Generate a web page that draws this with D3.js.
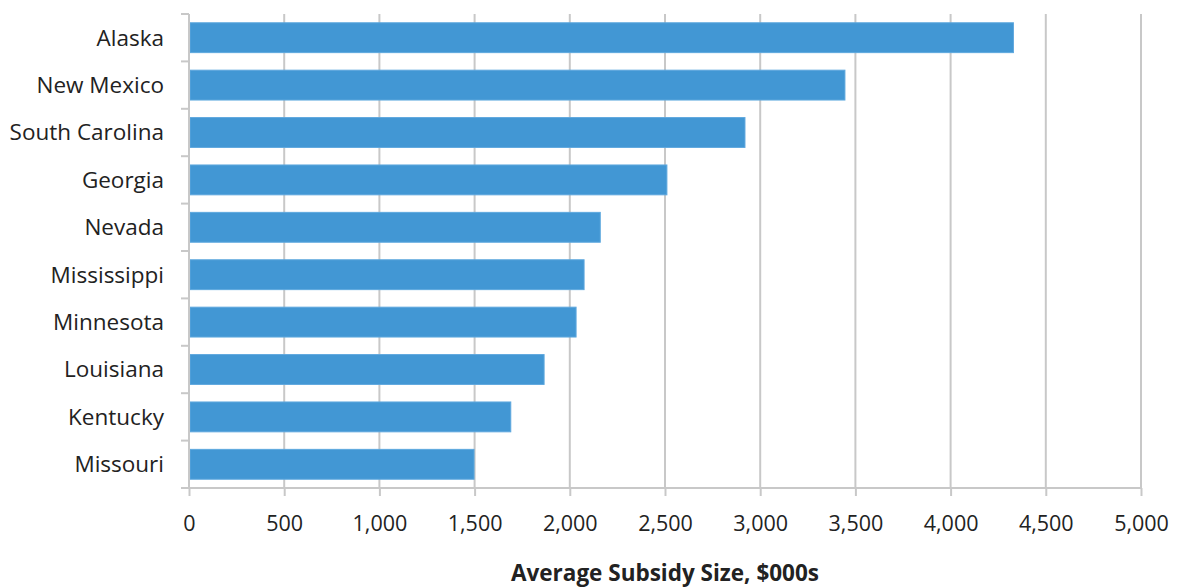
<!DOCTYPE html>
<html>
<head>
<meta charset="utf-8">
<script src="https://cdn.jsdelivr.net/npm/d3@7"></script>
<style>
  body { margin: 0; background: #fff; }
  svg { display: block; font-family: "Open Sans", "Noto Sans", sans-serif; }
</style>
</head>
<body>
<svg id="chart" width="1177" height="588"></svg>
<script>
// Average subsidy size by state ($000s)
const states = ["Alaska", "New Mexico", "South Carolina", "Georgia", "Nevada",
                "Mississippi", "Minnesota", "Louisiana", "Kentucky", "Missouri"];
const subsidy = [4330, 3445, 2920, 2510, 2160, 2075, 2033, 1865, 1690, 1497];
const xTicks = [0, 500, 1000, 1500, 2000, 2500, 3000, 3500, 4000, 4500, 5000];
const xTitle = "Average Subsidy Size, $000s";

const svg = d3.select("#chart");
const plotLeft = 189, plotRight = 1141, plotTop = 14, plotBottom = 488;

const x = d3.scaleLinear().domain([0, 5000]).range([plotLeft, plotRight]);
const y = d3.scaleBand().domain(states).range([plotTop, plotBottom]).paddingInner(0.37).paddingOuter(0.185);
const band = d3.scaleBand().domain(states).range([plotTop, plotBottom]);

const gridColor = "#c8c8c8";
const textColor = "#222";

// vertical gridlines
svg.append("g")
  .selectAll("line")
  .data(xTicks.slice(1))
  .join("line")
  .attr("x1", d => x(d)).attr("x2", d => x(d))
  .attr("y1", plotTop).attr("y2", plotBottom)
  .attr("stroke", gridColor).attr("stroke-width", 2);

// bars
svg.append("g")
  .selectAll("rect")
  .data(states)
  .join("rect")
  .attr("x", x(0) + 1)
  .attr("y", d => y(d))
  .attr("width", (d, i) => x(subsidy[i]) - x(0) - 1)
  .attr("height", y.bandwidth())
  .attr("fill", "#4297d4")
  .attr("stroke", "#5ea8de")
  .attr("stroke-width", 1);

// x axis
const xAxis = d3.axisBottom(x)
  .tickValues(xTicks)
  .tickFormat(d3.format(","))
  .tickSize(8)
  .tickSizeOuter(0)
  .tickPadding(20);
const gx = svg.append("g").attr("transform", `translate(0,${plotBottom})`).call(xAxis);
gx.select(".domain").remove();
gx.append("line").attr("x1", plotLeft - 8).attr("x2", plotRight).attr("y1", 0).attr("y2", 0)
  .attr("stroke", gridColor).attr("stroke-width", 2);
gx.selectAll(".tick line").attr("stroke", gridColor).attr("stroke-width", 2);
gx.selectAll(".tick text").attr("fill", textColor).attr("font-size", 21.5)
  .attr("font-family", "'Open Sans', 'Noto Sans', sans-serif");

// y axis with ticks at category boundaries
const gy = svg.append("g");
gy.append("line").attr("x1", plotLeft).attr("x2", plotLeft).attr("y1", plotTop).attr("y2", plotBottom)
  .attr("stroke", gridColor).attr("stroke-width", 2);
gy.selectAll(".bt")
  .data(states)
  .join("line")
  .attr("class", "bt")
  .attr("x1", plotLeft - 8).attr("x2", plotLeft)
  .attr("y1", d => band(d)).attr("y2", d => band(d))
  .attr("stroke", gridColor).attr("stroke-width", 2);
gy.selectAll("text")
  .data(states)
  .join("text")
  .attr("x", 164)
  .attr("y", d => band(d) + band.bandwidth() / 2)
  .attr("dy", "0.35em")
  .attr("text-anchor", "end")
  .attr("fill", textColor)
  .attr("font-size", 22.5)
  .text(d => d);

// axis title
svg.append("text")
  .attr("x", 665)
  .attr("y", 581)
  .attr("text-anchor", "middle")
  .attr("font-weight", "bold")
  .attr("font-size", 22.5)
  .attr("fill", textColor)
  .text(xTitle);
</script>
</body>
</html>
